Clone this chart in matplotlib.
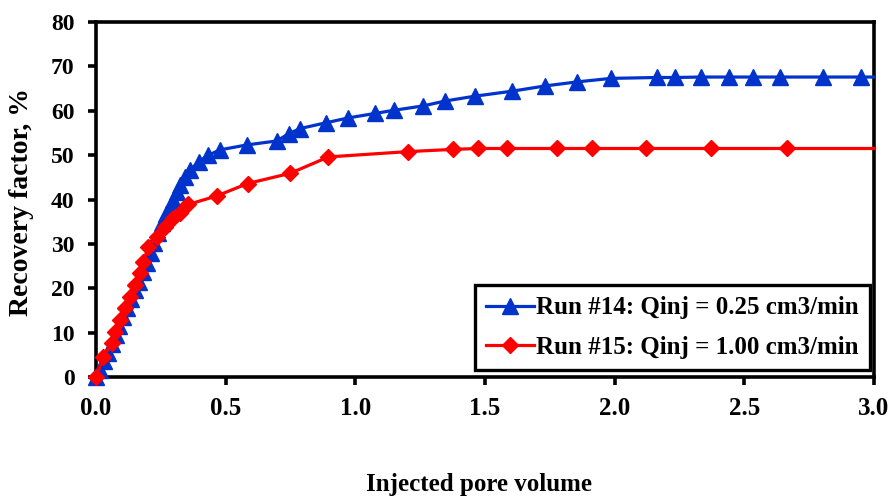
import matplotlib
matplotlib.use('Agg')
import matplotlib.pyplot as plt
from matplotlib.ticker import FormatStrFormatter

plt.rcParams['font.family'] = 'Liberation Serif'
plt.rcParams['font.weight'] = 'bold'

# Run #14 (0.25 cm3/min)
pv14 = [0.0, 0.015, 0.03, 0.045, 0.06, 0.075, 0.09, 0.105, 0.12, 0.135, 0.15, 0.165,
        0.18, 0.195, 0.21, 0.225, 0.24, 0.255, 0.27, 0.285, 0.298, 0.311, 0.324, 0.343,
        0.363, 0.395, 0.433, 0.478, 0.581, 0.697, 0.742, 0.787, 0.887, 0.973, 1.076,
        1.147, 1.262, 1.346, 1.462, 1.603, 1.732, 1.854, 1.986, 2.163, 2.233, 2.332,
        2.439, 2.532, 2.638, 2.802, 2.949, 3.0]
rf14 = [0.0, 1.5, 3.5, 5.5, 7.5, 9.5, 11.5, 13.5, 15.5, 17.5, 19.5, 21.5,
        23.7, 25.8, 28.0, 30.2, 32.5, 34.7, 36.7, 38.1, 39.9, 41.8, 43.3, 45.1,
        46.6, 48.5, 50.0, 51.2, 52.3, 53.2, 54.8, 56.0, 57.3, 58.4, 59.4,
        60.1, 61.1, 62.2, 63.3, 64.4, 65.6, 66.5, 67.3, 67.5, 67.5, 67.6,
        67.6, 67.6, 67.6, 67.6, 67.6, 67.6]

# Run #15 (1.00 cm3/min)
pv15 = [0.0, 0.028, 0.06, 0.073, 0.093, 0.112, 0.131, 0.15, 0.17, 0.182, 0.202,
        0.234, 0.266, 0.298, 0.324, 0.356, 0.465, 0.584, 0.748, 0.896, 1.204,
        1.376, 1.474, 1.586, 1.777, 1.913, 2.119, 2.371, 2.664, 3.0]
rf15 = [0.0, 4.6, 7.6, 10.2, 12.8, 15.5, 18.1, 20.7, 23.4, 26.0, 29.4,
        31.5, 33.9, 35.8, 36.9, 38.9, 40.8, 43.6, 45.9, 49.6, 50.8,
        51.3, 51.5, 51.5, 51.5, 51.5, 51.5, 51.5, 51.5, 51.5]

labels = ['Run #14: Qinj = 0.25 cm3/min', 'Run #15: Qinj = 1.00 cm3/min']

fig = plt.figure(figsize=(8.9, 4.97), dpi=100)
ax = fig.add_axes([0.108, 0.2414, 0.874, 0.7143])

# last point of each run is where the line runs into the frame, no marker there
ax.plot(pv14, rf14, color='#0033CC', lw=2.3, marker='^', ms=11.5,
        markevery=list(range(len(pv14) - 1)), label=labels[0], clip_on=False, zorder=3)
ax.plot(pv15, rf15, color='#FF0000', lw=2.3, marker='D', ms=7.8,
        markevery=list(range(len(pv15) - 1)), label=labels[1], clip_on=False, zorder=4)

ax.set_xlim(0, 3.0)
ax.set_ylim(0, 80)
ax.set_xticks([0, 0.5, 1.0, 1.5, 2.0, 2.5, 3.0])
ax.set_yticks(range(0, 81, 10))
ax.xaxis.set_major_formatter(FormatStrFormatter('%.1f'))

for s in ax.spines.values():
    s.set_linewidth(2.6)
ax.tick_params(direction='out', length=5.5, width=2.6)
ax.tick_params(axis='y', labelsize=17, pad=10)
ax.tick_params(axis='x', labelsize=18, pad=9)
for lab in ax.get_xticklabels() + ax.get_yticklabels():
    lab.set_fontweight('bold')

fig.text(479 / 890, 1 - 484 / 497, 'Injected pore volume', fontsize=18,
         fontweight='bold', ha='center', va='center')
fig.text(22 / 890, 0.594, 'Recovery factor, %', fontsize=20, fontweight='bold',
         rotation=90, ha='center', va='center')

leg = ax.legend(loc='lower right', bbox_to_anchor=(0.995, 0.02), fontsize=18,
                fancybox=False, edgecolor='black', framealpha=1, handlelength=1.9,
                handletextpad=0.1, borderpad=0.45, labelspacing=0.65, borderaxespad=0,
                prop={'weight': 'bold', 'size': 18})
leg.get_frame().set_linewidth(2.4)

fig.savefig('out.png', dpi=100)
